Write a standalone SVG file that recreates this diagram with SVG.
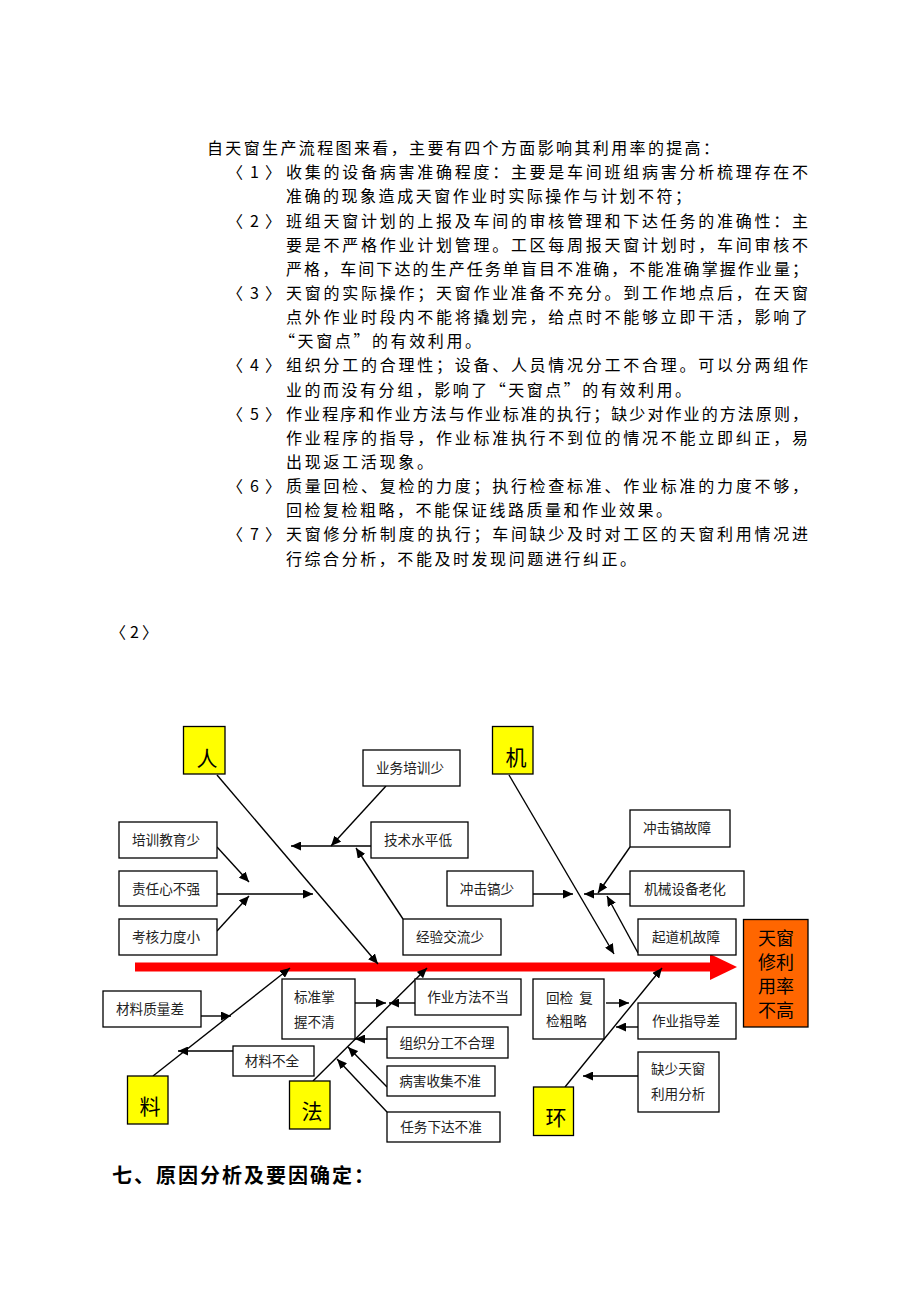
<svg xmlns="http://www.w3.org/2000/svg" width="920" height="1302" viewBox="0 0 920 1302">
<style>
.p{font-family:"Noto Sans CJK SC","Noto Sans",sans-serif;font-size:16px;fill:#000}
.n{font-family:"Noto Sans CJK SC","Noto Sans",sans-serif;font-size:16px;fill:#000}
.b{fill:#fff;stroke:#000;stroke-width:1.3}
.t{font-family:"Noto Sans CJK SC","Noto Sans",sans-serif;font-size:13.6px;fill:#222;text-anchor:middle}
.tl{font-family:"Noto Sans CJK SC","Noto Sans",sans-serif;font-size:13.6px;fill:#222}
.cat{fill:#ffff00;stroke:#000;stroke-width:1.3}
.ct{font-family:"Noto Sans CJK SC","Noto Sans",sans-serif;font-size:21px;fill:#000;text-anchor:middle}
.ln{stroke:#000;stroke-width:1.4;fill:none;marker-end:url(#ah)}
</style>
<defs>
<marker id="ah" markerUnits="userSpaceOnUse" markerWidth="11" markerHeight="9" refX="10" refY="4.5" orient="auto">
<path d="M0,0 L10,4.5 L0,9 z" fill="#000"/>
</marker>
</defs>
<rect width="920" height="1302" fill="#fff"/>

<g id="text-block">
<text class="p" x="207" y="154" textLength="512" lengthAdjust="spacing">自天窗生产流程图来看，主要有四个方面影响其利用率的提高：</text>
<text class="n" x="227 250 265" y="178">〈1〉</text>
<text class="p" x="286" y="178" textLength="522" lengthAdjust="spacing">收集的设备病害准确程度：主要是车间班组病害分析梳理存在不</text>
<text class="p" x="286" y="202" textLength="405" lengthAdjust="spacing">准确的现象造成天窗作业时实际操作与计划不符；</text>
<text class="n" x="227 250 265" y="226.5">〈2〉</text>
<text class="p" x="286" y="226.5" textLength="522" lengthAdjust="spacing">班组天窗计划的上报及车间的审核管理和下达任务的准确性：主</text>
<text class="p" x="286" y="250.6" textLength="522" lengthAdjust="spacing">要是不严格作业计划管理。工区每周报天窗计划时，车间审核不</text>
<text class="p" x="286" y="274.8" textLength="522" lengthAdjust="spacing">严格，车间下达的生产任务单盲目不准确，不能准确掌握作业量；</text>
<text class="n" x="227 250 265" y="299">〈3〉</text>
<text class="p" x="286" y="299" textLength="522" lengthAdjust="spacing">天窗的实际操作；天窗作业准备不充分。到工作地点后，在天窗</text>
<text class="p" x="286" y="323" textLength="522" lengthAdjust="spacing">点外作业时段内不能将撬划完，给点时不能够立即干活，影响了</text>
<text class="p" x="279" y="347" textLength="202" lengthAdjust="spacing">“天窗点”的有效利用。</text>
<text class="n" x="227 250 265" y="371.4">〈4〉</text>
<text class="p" x="286" y="371.4" textLength="522" lengthAdjust="spacing">组织分工的合理性；设备、人员情况分工不合理。可以分两组作</text>
<text class="p" x="286" y="395.5" textLength="405" lengthAdjust="spacing">业的而没有分组，影响了“天窗点”的有效利用。</text>
<text class="n" x="227 250 265" y="419.7">〈5〉</text>
<text class="p" x="286" y="419.7" textLength="522" lengthAdjust="spacing">作业程序和作业方法与作业标准的执行；缺少对作业的方法原则，</text>
<text class="p" x="286" y="443.8" textLength="522" lengthAdjust="spacing">作业程序的指导，作业标准执行不到位的情况不能立即纠正，易</text>
<text class="p" x="286" y="468" textLength="147" lengthAdjust="spacing">出现返工活现象。</text>
<text class="n" x="227 250 265" y="492">〈6〉</text>
<text class="p" x="286" y="492" textLength="522" lengthAdjust="spacing">质量回检、复检的力度；执行检查标准、作业标准的力度不够，</text>
<text class="p" x="286" y="516" textLength="386" lengthAdjust="spacing">回检复检粗略，不能保证线路质量和作业效果。</text>
<text class="n" x="227 250 265" y="540.4">〈7〉</text>
<text class="p" x="286" y="540.4" textLength="522" lengthAdjust="spacing">天窗修分析制度的执行；车间缺少及时对工区的天窗利用情况进</text>
<text class="p" x="286" y="564.6" textLength="350" lengthAdjust="spacing">行综合分析，不能及时发现问题进行纠正。</text>
<text class="n" x="110 130 142" y="638">〈2〉</text>
</g>

<g id="spine">
<rect x="135" y="962.5" width="577" height="9" fill="#ff0000"/>
<polygon points="710,954 737,967 710,980" fill="#ff0000"/>
</g>

<g id="connectors">
<line class="ln" x1="217" y1="775" x2="378" y2="964"/>
<line class="ln" x1="509" y1="775" x2="614" y2="954"/>
<line class="ln" x1="153" y1="1076" x2="290" y2="968"/>
<line class="ln" x1="313" y1="1081" x2="427" y2="968"/>
<line class="ln" x1="565" y1="1087" x2="662" y2="968"/>
<line class="ln" x1="217" y1="847" x2="249" y2="882"/>
<line class="ln" x1="217" y1="931" x2="249" y2="896"/>
<line class="ln" x1="217" y1="894" x2="313" y2="894"/>
<line class="ln" x1="371" y1="846" x2="291" y2="846"/>
<line class="ln" x1="386" y1="786" x2="331" y2="846"/>
<line class="ln" x1="403" y1="919" x2="356" y2="848"/>
<line class="ln" x1="533" y1="894" x2="573" y2="894"/>
<line class="ln" x1="630" y1="894" x2="584" y2="894"/>
<line class="ln" x1="630" y1="847" x2="598" y2="893"/>
<line class="ln" x1="638" y1="953" x2="607" y2="896"/>
<line class="ln" x1="201" y1="1016" x2="231" y2="1016"/>
<line class="ln" x1="233" y1="1051" x2="178" y2="1051"/>
<line class="ln" x1="355" y1="1003" x2="386" y2="1003"/>
<line class="ln" x1="415" y1="1003" x2="389" y2="1003"/>
<line class="ln" x1="387" y1="1039" x2="355" y2="1039"/>
<line class="ln" x1="387" y1="1087" x2="348" y2="1047"/>
<line class="ln" x1="387" y1="1112" x2="337" y2="1059"/>
<line class="ln" x1="606" y1="1003" x2="629" y2="1003"/>
<line class="ln" x1="638" y1="1027" x2="616" y2="1027"/>
<line class="ln" x1="638" y1="1076" x2="583" y2="1076"/>
</g>

<g id="cat-ren"><rect class="cat" x="183.5" y="726.5" width="41.5" height="47.5"/><text class="ct" x="207" y="766">人</text></g>
<g id="cat-ji"><rect class="cat" x="492.5" y="726.5" width="40.5" height="47.5"/><text class="ct" x="516" y="765">机</text></g>
<g id="cat-liao"><rect class="cat" x="127.5" y="1076" width="40.5" height="48"/><text class="ct" x="150" y="1114">料</text></g>
<g id="cat-fa"><rect class="cat" x="289.5" y="1081" width="40.5" height="48"/><text class="ct" x="312" y="1119">法</text></g>
<g id="cat-huan"><rect class="cat" x="533.5" y="1087" width="40" height="48.5"/><text class="ct" x="556" y="1125">环</text></g>

<g id="effect">
<rect x="743.5" y="919.5" width="64.5" height="107.5" fill="#ff6600" stroke="#000" stroke-width="1.3"/>
<text font-family="Noto Sans CJK SC,sans-serif" font-size="18px" fill="#000" text-anchor="middle">
<tspan x="776" y="945">天窗</tspan><tspan x="776" y="969">修利</tspan><tspan x="776" y="993">用率</tspan><tspan x="776" y="1017">不高</tspan>
</text>
</g>

<g id="n-yewu"><rect class="b" x="363" y="750" width="97" height="36"/><text class="t" x="410" y="773">业务培训少</text></g>
<g id="n-peixun"><rect class="b" x="119" y="822" width="98" height="36"/><text class="t" x="166" y="845">培训教育少</text></g>
<g id="n-jishu"><rect class="b" x="371" y="822" width="97" height="36"/><text class="t" x="418" y="845">技术水平低</text></g>
<g id="n-zeren"><rect class="b" x="119" y="871" width="98" height="35"/><text class="t" x="166" y="893.5">责任心不强</text></g>
<g id="n-kaohe"><rect class="b" x="119" y="919" width="98" height="36"/><text class="t" x="166" y="942">考核力度小</text></g>
<g id="n-jingyan"><rect class="b" x="403" y="919" width="98" height="36"/><text class="t" x="450" y="942">经验交流少</text></g>
<g id="n-chongjigaogz"><rect class="b" x="630" y="810" width="100" height="37"/><text class="t" x="677" y="833">冲击镐故障</text></g>
<g id="n-chongjigaoshao"><rect class="b" x="447" y="871" width="86" height="35"/><text class="t" x="487" y="893.5">冲击镐少</text></g>
<g id="n-jixie"><rect class="b" x="630" y="871" width="114" height="35"/><text class="t" x="685" y="893.5">机械设备老化</text></g>
<g id="n-qidao"><rect class="b" x="638" y="919" width="98" height="36"/><text class="t" x="686" y="942">起道机故障</text></g>
<g id="n-cailiaozl"><rect class="b" x="103" y="991" width="98" height="36"/><text class="t" x="150" y="1014">材料质量差</text></g>
<g id="n-biaozhun"><rect class="b" x="282" y="979" width="73" height="60"/><text class="tl" x="294" y="1002">标准掌</text><text class="tl" x="294" y="1027">握不清</text></g>
<g id="n-fangfa"><rect class="b" x="415" y="979" width="106" height="36"/><text class="t" x="468" y="1002">作业方法不当</text></g>
<g id="n-huijian"><rect class="b" x="533" y="979" width="71" height="60"/><text class="tl" x="546" y="1003" xml:space="preserve">回检  复</text><text class="tl" x="546" y="1026">检粗略</text></g>
<g id="n-zhidao"><rect class="b" x="638" y="1003" width="98" height="36"/><text class="t" x="686" y="1026">作业指导差</text></g>
<g id="n-zuzhi"><rect class="b" x="387" y="1027" width="121" height="31"/><text class="t" x="447" y="1047.5">组织分工不合理</text></g>
<g id="n-cailiaobq"><rect class="b" x="233" y="1046" width="81" height="30"/><text class="t" x="272" y="1066">材料不全</text></g>
<g id="n-queshao"><rect class="b" x="638" y="1052" width="81" height="60"/><text class="tl" x="651" y="1074">缺少天窗</text><text class="tl" x="651" y="1099">利用分析</text></g>
<g id="n-binghai"><rect class="b" x="387" y="1066" width="108" height="30"/><text class="t" x="440" y="1086">病害收集不准</text></g>
<g id="n-renwu"><rect class="b" x="387" y="1112" width="113" height="30"/><text class="t" x="441" y="1132">任务下达不准</text></g>

<g id="heading">
<text font-family="Noto Sans CJK SC,sans-serif" font-size="20px" font-weight="bold" fill="#000" x="112" y="1183" textLength="262" lengthAdjust="spacing">七、原因分析及要因确定：</text>
</g>
</svg>
